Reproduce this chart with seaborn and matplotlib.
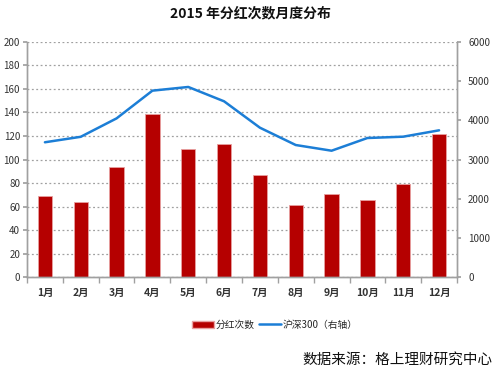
import pandas as pd
import numpy as np
import matplotlib
matplotlib.use('Agg')
import matplotlib.pyplot as plt
import seaborn as sns
from matplotlib.patches import Patch
from matplotlib.lines import Line2D

# 数据
months = ['1月', '2月', '3月', '4月', '5月', '6月', '7月', '8月', '9月', '10月', '11月', '12月']
dividend_counts = [69, 64, 94, 139, 109, 113, 87, 61, 71, 66, 79, 122]
hs300 = [3440, 3580, 4050, 4757, 4851, 4485, 3812, 3370, 3225, 3549, 3583, 3745]

sns.set_theme(style='white')
plt.rcParams['font.family'] = ['Noto Sans CJK SC', 'DejaVu Sans']
plt.rcParams['axes.unicode_minus'] = False

df = pd.DataFrame({'month': months, 'count': dividend_counts, 'hs300': hs300})
df['pos'] = np.arange(len(months))

fig = plt.figure(figsize=(5, 3.71), dpi=100)
ax = fig.add_axes([0.054, 0.253, 0.86, 0.634])

# 柱状图
sns.barplot(data=df, x='month', y='count', color='#B50000', width=0.4,
            edgecolor='#E8A0A0', linewidth=0.6, saturation=1, ax=ax, zorder=2)
ax.set_ylim(0, 200)
ax.set_yticks(range(0, 201, 20))
ax.set_xlim(-0.5, 11.5)
ax.grid(axis='y', linestyle=(0, (1.5, 2)), color='#A0A0A0', linewidth=0.9, zorder=0)
ax.set_axisbelow(True)
ax.set_xlabel('')
ax.set_ylabel('')

# 右轴折线
ax2 = ax.twinx()
sns.lineplot(data=df, x='pos', y='hs300', color='#1C7ED6', linewidth=1.8, ax=ax2)
ax2.set_ylim(0, 6000)
ax2.set_yticks(range(0, 6001, 1000))
ax2.set_xlim(-0.5, 11.5)
ax2.set_xlabel('')
ax2.set_ylabel('')

# 坐标轴样式
for a in (ax, ax2):
    a.spines['top'].set_visible(False)
    for s in ('left', 'right', 'bottom'):
        a.spines[s].set_color('#A0A0A0')
        a.spines[s].set_linewidth(1.0)
ax.tick_params(axis='y', labelsize=7, colors='#333333', length=3, left=True, color='#A0A0A0', pad=2)
ax2.tick_params(axis='y', labelsize=7, colors='#333333', length=3, right=True, color='#A0A0A0', pad=5)
ax.tick_params(axis='x', labelsize=7.5, colors='#333333', length=0, pad=8)
ax.set_xticks(np.arange(-0.5, 12, 1), minor=True)
ax.tick_params(axis='x', which='minor', length=4, color='#A0A0A0', bottom=True)
for lbl in ax.get_xticklabels():
    lbl.set_fontweight('bold')

fig.text(0.5, 0.965, '2015 年分红次数月度分布', ha='center', va='center',
         fontsize=10, fontweight='bold', color='#111111')

handles = [Patch(facecolor='#B50000', edgecolor='#E8A0A0'),
           Line2D([0], [0], color='#1C7ED6', linewidth=1.8)]
fig.legend(handles, ['分红次数', '沪深300（右轴）'], loc='center', bbox_to_anchor=(0.55, 0.125),
           ncol=2, frameon=False, fontsize=7, handlelength=2.2, handletextpad=0.2,
           columnspacing=0.5)

fig.text(0.985, 0.03, '数据来源：格上理财研究中心', ha='right', va='center',
         fontsize=10.5, color='#111111')

fig.savefig('out.png', dpi=100)
